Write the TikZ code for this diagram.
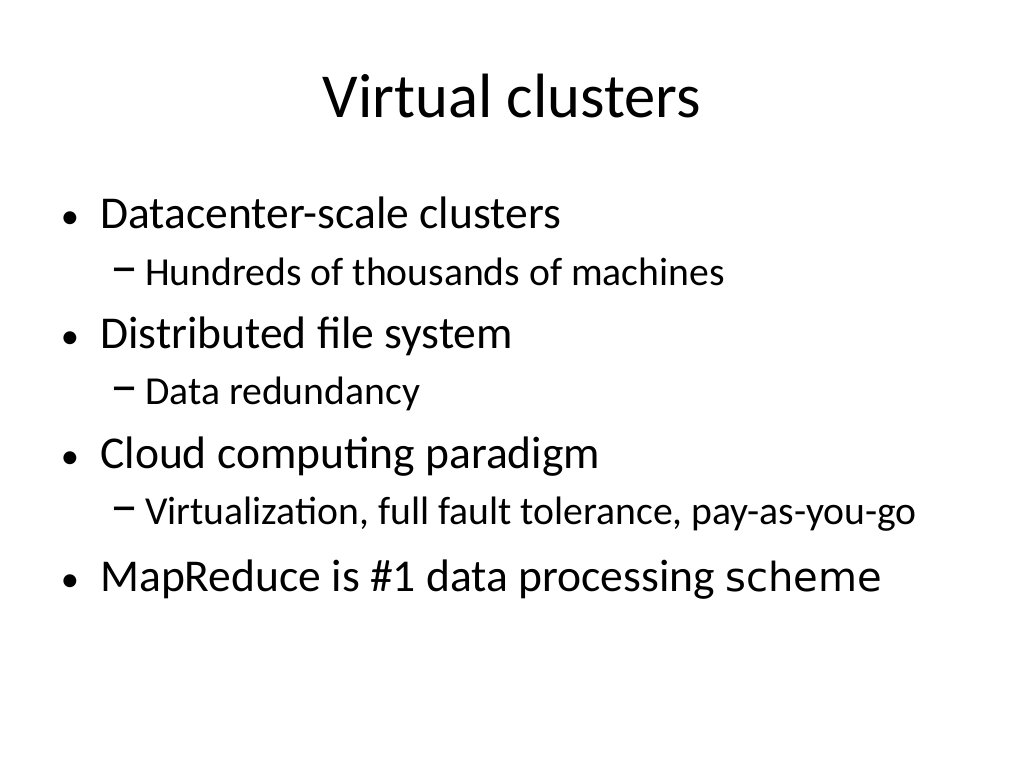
\documentclass[tikz,border=0pt]{standalone}
\usepackage{fontspec}
\setmainfont{Carlito}
\newfontfamily\schemefont{DejaVu Sans}
\tikzset{
  title/.style={anchor=base, font=\fontsize{44.5}{50}\selectfont},
  item/.style={anchor=base west, inner sep=0pt, font=\fontsize{32.4}{38}\selectfont},
  subitem/.style={anchor=base west, inner sep=0pt, font=\fontsize{28.2}{34}\selectfont},
  bulletmark/.style={anchor=base, inner sep=0pt, font=\fontsize{26}{30}\selectfont},
}
\begin{document}
\begin{tikzpicture}[x=0.025cm,y=-0.025cm]
  \useasboundingbox (0,0) rectangle (1024,768);
  \node[title] (head) at (512,118) {Virtual clusters};
  % bullets
  \node[item] (b1) at (100,228) {Datacenter-scale clusters};
  \node[item] (b2) at (100,348) {Distributed file system};
  \node[item] (b3) at (100,468) {Cloud computing paradigm};
  \node[item] (b4) at (100,591) {MapReduce is \#1 data processing {\schemefont\fontsize{28.5}{34}\selectfont scheme}};
  \foreach \y/\n in {228/d1,348/d2,468/d3,591/d4}
    \node[bulletmark] (\n) at (70,\y) {\textbullet};
  % sub-items
  \node[subitem] (s1) at (145,285) {Hundreds of thousands of machines};
  \node[subitem] (s2) at (145,404) {Data redundancy};
  \node[subitem] (s3) at (145,524) {Virtualization, full fault tolerance, pay-as-you-go};
  \foreach \y/\n in {285/e1,404/e2,524/e3}
    \node[bulletmark,font=\fontsize{40}{44}\selectfont] (\n) at (125,\y) {--};
\end{tikzpicture}
\end{document}
